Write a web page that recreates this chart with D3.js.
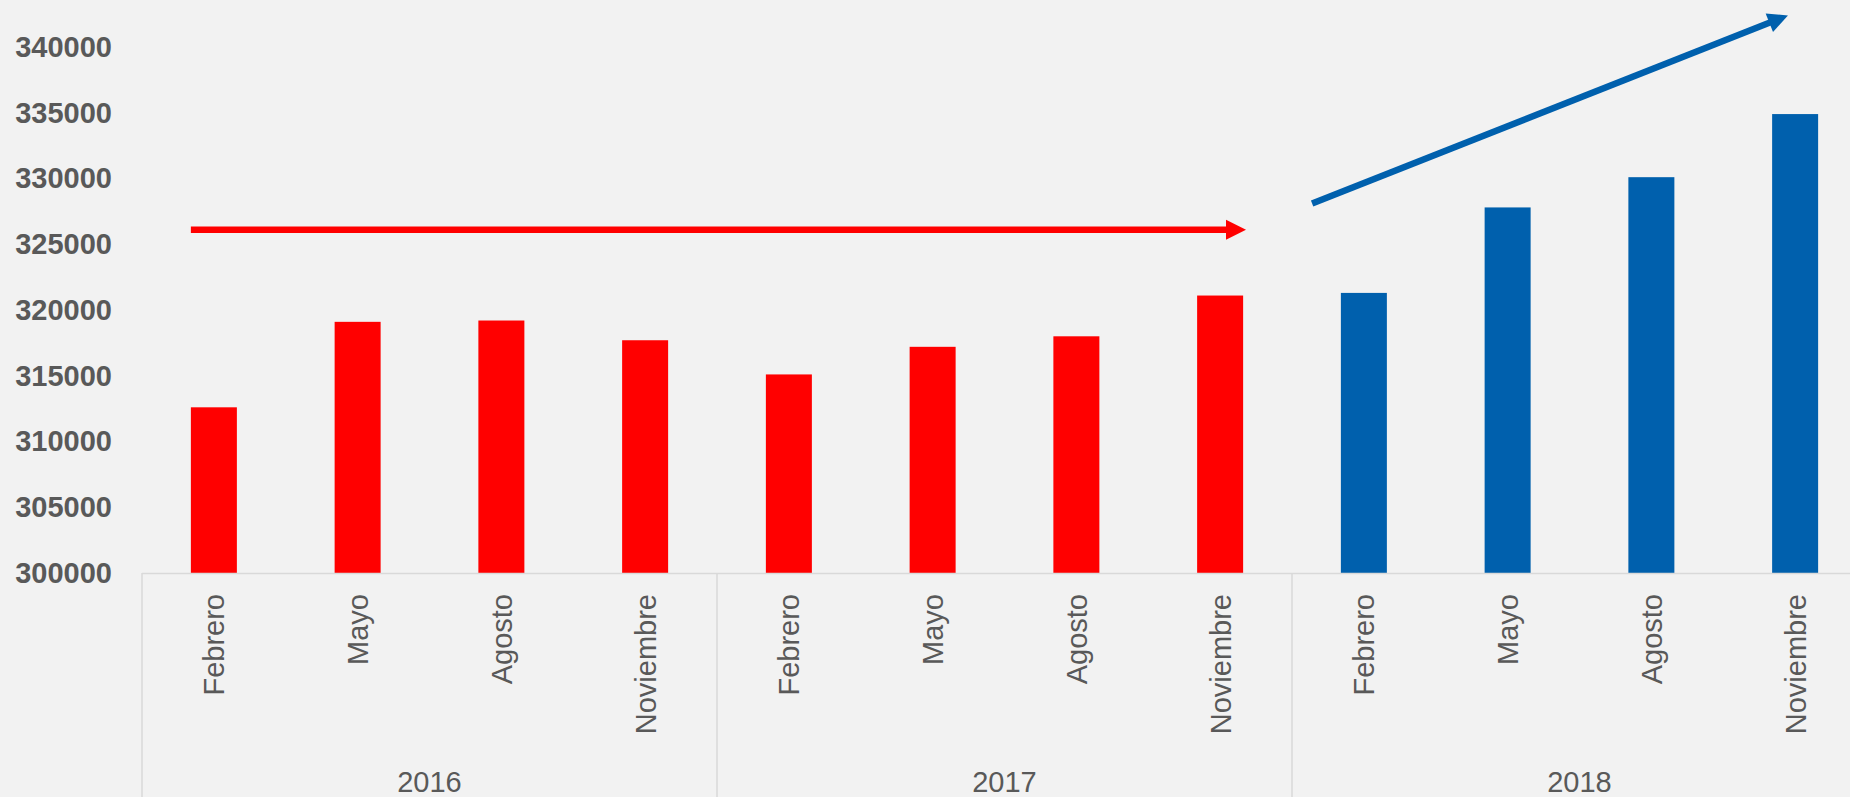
<!DOCTYPE html>
<html>
<head>
<meta charset="utf-8">
<script src="https://cdn.jsdelivr.net/npm/d3@7/dist/d3.min.js"></script>
<style>
  html, body { margin: 0; padding: 0; background: #f2f2f2; overflow: hidden; }
  svg { display: block; }
</style>
</head>
<body>
<script>
// ---- data ----
const months = ["Febrero", "Mayo", "Agosto", "Noviembre",
                "Febrero", "Mayo", "Agosto", "Noviembre",
                "Febrero", "Mayo", "Agosto", "Noviembre"];
const years = ["2016", "2017", "2018"];
const values = [312600, 319100, 319200, 317700,
                315100, 317200, 318000, 321100,
                321300, 327800, 330100, 334900];
const barColors = ["#ff0000", "#ff0000", "#ff0000", "#ff0000",
                   "#ff0000", "#ff0000", "#ff0000", "#ff0000",
                   "#0060ad", "#0060ad", "#0060ad", "#0060ad"];
const yTicks = [300000, 305000, 310000, 315000, 320000, 325000, 330000, 335000, 340000];
// trend arrows: positions in category units (0 = first category centre) and values
const arrowFrom = [[-0.16, 326100], [7.64, 328100]];
const arrowTo   = [[7.18, 326100], [10.95, 342400]];
const arrowColors = ["#ff0000", "#0060ad"];

// ---- layout ----
const W = 1850, H = 797;
const left = 142, bandStep = 143.75;
const right = left + bandStep * months.length;
const baseY = 573, topY = 47;

const svg = d3.select("body").append("svg").attr("width", W).attr("height", H);
svg.append("rect").attr("width", W).attr("height", H).attr("fill", "#f2f2f2");

const x = d3.scaleBand().domain(d3.range(months.length)).range([left, right])
  .paddingInner(0.68).paddingOuter(0.34);
const xPos = d3.scaleLinear().domain([-0.5, months.length - 0.5]).range([left, right]);
const y = d3.scaleLinear().domain([300000, 340000]).range([baseY, topY]);

// y axis labels
const yAxis = d3.axisLeft(y).tickValues(yTicks).tickSize(0).tickPadding(0).tickFormat(d3.format("d"));
const ya = svg.append("g").attr("transform", "translate(112,0)").call(yAxis);
ya.select(".domain").remove();
ya.selectAll("text").attr("font-family", "Liberation Sans, Arial, sans-serif")
  .attr("font-weight", "bold").attr("font-size", 29).attr("fill", "#595959");

// bars
svg.append("g").selectAll("rect").data(values).join("rect")
  .attr("x", (d, i) => x(i))
  .attr("width", x.bandwidth())
  .attr("y", d => y(d))
  .attr("height", d => y(300000) - y(d))
  .attr("fill", (d, i) => barColors[i]);

// category axis lines
const g = svg.append("g");
g.append("line").attr("x1", left).attr("x2", W).attr("y1", baseY + 0.5).attr("y2", baseY + 0.5)
  .attr("stroke", "#d9d9d9").attr("stroke-width", 1.5);
years.forEach((yr, k) => {
  const sx = xPos(k * 4 - 0.5);
  g.append("line").attr("x1", sx).attr("x2", sx).attr("y1", baseY).attr("y2", H)
    .attr("stroke", "#d9d9d9").attr("stroke-width", 1.5);
  g.append("text").attr("x", xPos(k * 4 + 1.5)).attr("y", 792)
    .attr("text-anchor", "middle").attr("font-family", "Liberation Sans, Arial, sans-serif")
    .attr("font-size", 29).attr("fill", "#595959").text(yr);
});

// month labels (rotated)
g.selectAll("text.m").data(months).join("text").attr("class", "m")
  .attr("transform", (d, i) => `translate(${x(i) + x.bandwidth() / 2},594) rotate(-90)`)
  .attr("text-anchor", "end").attr("dy", "0.36em")
  .attr("font-family", "Liberation Sans, Arial, sans-serif")
  .attr("font-size", 29).attr("fill", "#595959").text(d => d);

// arrows
arrowFrom.forEach((f, k) => {
  const t = arrowTo[k];
  const x1 = xPos(f[0]), y1 = y(f[1]), x2 = xPos(t[0]), y2 = y(t[1]);
  const len = Math.hypot(x2 - x1, y2 - y1);
  const ux = (x2 - x1) / len, uy = (y2 - y1) / len;
  const headL = 20, headW = 10;
  const bx = x2 - ux * headL, by = y2 - uy * headL;
  svg.append("line").attr("x1", x1).attr("y1", y1).attr("x2", bx + ux * 2).attr("y2", by + uy * 2)
    .attr("stroke", arrowColors[k]).attr("stroke-width", 6.5);
  svg.append("polygon")
    .attr("points", [[x2, y2], [bx - uy * headW, by + ux * headW], [bx + uy * headW, by - ux * headW]]
      .map(p => p.join(",")).join(" "))
    .attr("fill", arrowColors[k]);
});
</script>
</body>
</html>
